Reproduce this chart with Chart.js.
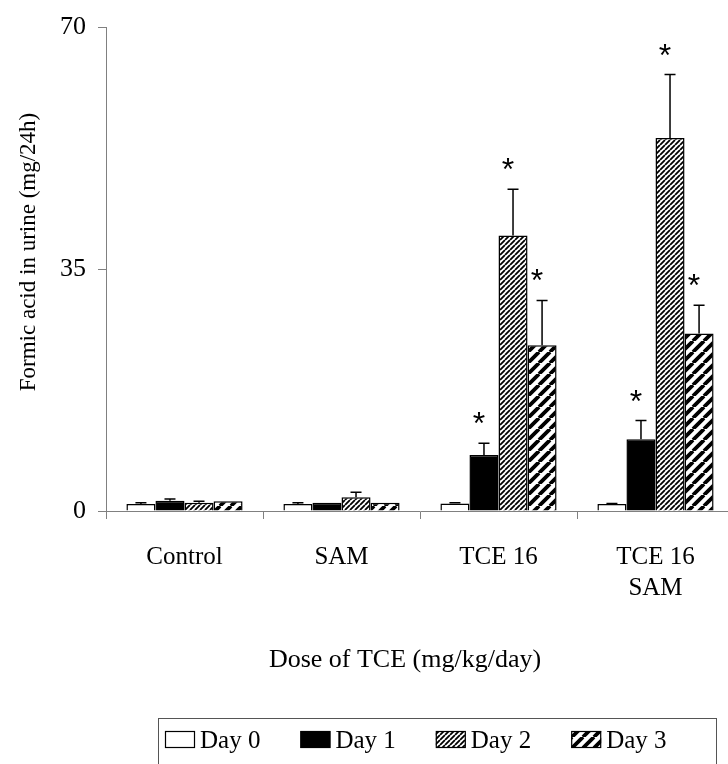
<!DOCTYPE html>
<html>
<head>
<meta charset="utf-8">
<script src="https://cdn.jsdelivr.net/npm/chart.js@4/dist/chart.umd.min.js"></script>
<style>
  html, body { margin: 0; padding: 0; background: #fff; overflow: hidden; }
  #myChart { display: block; }
</style>
</head>
<body>
<canvas id="myChart" width="740" height="764" style="width:740px;height:764px"></canvas>
<script>
// Data
const categories = ["Control", "SAM", "TCE 16", ["TCE 16", "SAM"]];
const seriesNames = ["Day 0", "Day 1", "Day 2", "Day 3"];
const day0 = [1.0, 1.0, 1.1, 1.0];
const day1 = [1.5, 1.2, 8.1, 10.4];
const day2 = [1.2, 2.0, 39.9, 54.0];
const day3 = [1.4, 1.2, 24.0, 25.7];
const day0Err = [0.2, 0.2, 0.1, 0.1];
const day1Err = [0.25, 0, 1.7, 2.7];
const day2Err = [0.2, 0.7, 6.7, 9.2];
const day3Err = [0, 0, 6.5, 4.1];
const day0Sig = [false, false, false, false];
const day1Sig = [false, false, true, true];
const day2Sig = [false, false, true, true];
const day3Sig = [false, false, true, true];
const yTicks = [0, 35, 70];

const serif = "'Liberation Serif', 'Times New Roman', serif";

// Hatch patterns ("/" stripes)
function makeStripes(size, lineWidth) {
  const c = document.createElement("canvas");
  c.width = size;
  c.height = size;
  const g = c.getContext("2d");
  g.fillStyle = "#fff";
  g.fillRect(0, 0, size, size);
  g.strokeStyle = "#000";
  g.lineWidth = lineWidth;
  g.beginPath();
  for (let k = -1; k <= 1; k++) {
    g.moveTo(k * size, size);
    g.lineTo(k * size + size, 0);
  }
  g.stroke();
  return g.createPattern(c, "repeat");
}
const fineHatch = makeStripes(5, 1.8);
const wideHatch = makeStripes(11, 3.8);

const values = [day0, day1, day2, day3];
const errors = [day0Err, day1Err, day2Err, day3Err];
const sigs = [day0Sig, day1Sig, day2Sig, day3Sig];
const fills = ["#fff", "#000", fineHatch, wideHatch];

const datasets = seriesNames.map((name, i) => ({
  label: name,
  data: values[i],
  backgroundColor: fills[i],
  borderColor: "#000",
  borderWidth: 1.5,
  categoryPercentage: 0.74,
  barPercentage: 1.0
}));

// Error bars, asterisks, axis titles and boxed legend
const extras = {
  id: "extras",
  afterDatasetsDraw(chart) {
    const { ctx } = chart;
    const y = chart.scales.y;
    ctx.save();
    ctx.strokeStyle = "#000";
    ctx.lineWidth = 1.5;
    chart.data.datasets.forEach((ds, i) => {
      const meta = chart.getDatasetMeta(i);
      meta.data.forEach((bar, j) => {
        const v = ds.data[j];
        const e = errors[i][j];
        const top = y.getPixelForValue(v + e);
        if (e > 0) {
          ctx.beginPath();
          ctx.moveTo(bar.x, y.getPixelForValue(v));
          ctx.lineTo(bar.x, top);
          ctx.moveTo(bar.x - 5.5, top);
          ctx.lineTo(bar.x + 5.5, top);
          ctx.stroke();
        }
        if (sigs[i][j]) {
          ctx.fillStyle = "#000";
          ctx.font = "32px 'Liberation Sans', Arial, sans-serif";
          ctx.textAlign = "center";
          ctx.textBaseline = "alphabetic";
          ctx.fillText("*", bar.x - 5, top - 9);
        }
      });
    });
    ctx.restore();
  },
  afterDraw(chart) {
    const { ctx } = chart;
    ctx.save();
    ctx.fillStyle = "#000";
    ctx.textAlign = "center";
    ctx.textBaseline = "middle";

    // x axis title
    ctx.font = "26px " + serif;
    ctx.fillText("Dose of TCE (mg/kg/day)", 405, 660);

    // y axis title
    ctx.font = "23px " + serif;
    ctx.translate(29, 252);
    ctx.rotate(-Math.PI / 2);
    ctx.fillText("Formic acid in urine (mg/24h)", 0, 0);
    ctx.restore();

    // legend box
    ctx.save();
    ctx.strokeStyle = "#555";
    ctx.lineWidth = 1;
    ctx.strokeRect(158.5, 718.5, 558, 80);
    ctx.font = "25px " + serif;
    ctx.textBaseline = "middle";
    ctx.textAlign = "left";
    let lx = 165;
    seriesNames.forEach((name, i) => {
      ctx.fillStyle = fills[i];
      ctx.fillRect(lx, 731, 30, 17);
      ctx.strokeStyle = "#000";
      ctx.lineWidth = 1.2;
      ctx.strokeRect(lx + 0.5, 731.5, 29, 16);
      ctx.fillStyle = "#000";
      ctx.fillText(name, lx + 35, 741);
      lx += 35 + ctx.measureText(name).width + 40;
    });
    ctx.restore();
  }
};

const chart = new Chart(document.getElementById("myChart").getContext("2d"), {
  type: "bar",
  data: { labels: categories, datasets: datasets },
  options: {
    responsive: false,
    animation: false,
    layout: { padding: { top: 21, right: 6, left: 0, bottom: 0 } },
    plugins: {
      legend: { display: false },
      tooltip: { enabled: false }
    },
    scales: {
      x: {
        grid: {
          display: true,
          drawOnChartArea: false,
          drawTicks: true,
          tickLength: 8,
          color: "#808080",
          lineWidth: 1
        },
        border: { display: true, color: "#808080", width: 1 },
        ticks: {
          color: "#000",
          font: { family: serif, size: 25, lineHeight: 1.25 },
          padding: 23,
          maxRotation: 0,
          autoSkip: false
        },
        afterFit(scale) { scale.height = 253; }
      },
      y: {
        min: 0,
        max: 70,
        afterBuildTicks(scale) { scale.ticks = yTicks.map(v => ({ value: v })); },
        grid: {
          display: true,
          drawOnChartArea: false,
          drawTicks: true,
          tickLength: 8,
          color: "#808080",
          lineWidth: 1
        },
        border: { display: true, color: "#808080", width: 1 },
        ticks: {
          color: "#000",
          font: { family: serif, size: 26 },
          padding: 12
        },
        afterFit(scale) { scale.width = 106; }
      }
    }
  },
  plugins: [extras]
});
</script>
</body>
</html>
